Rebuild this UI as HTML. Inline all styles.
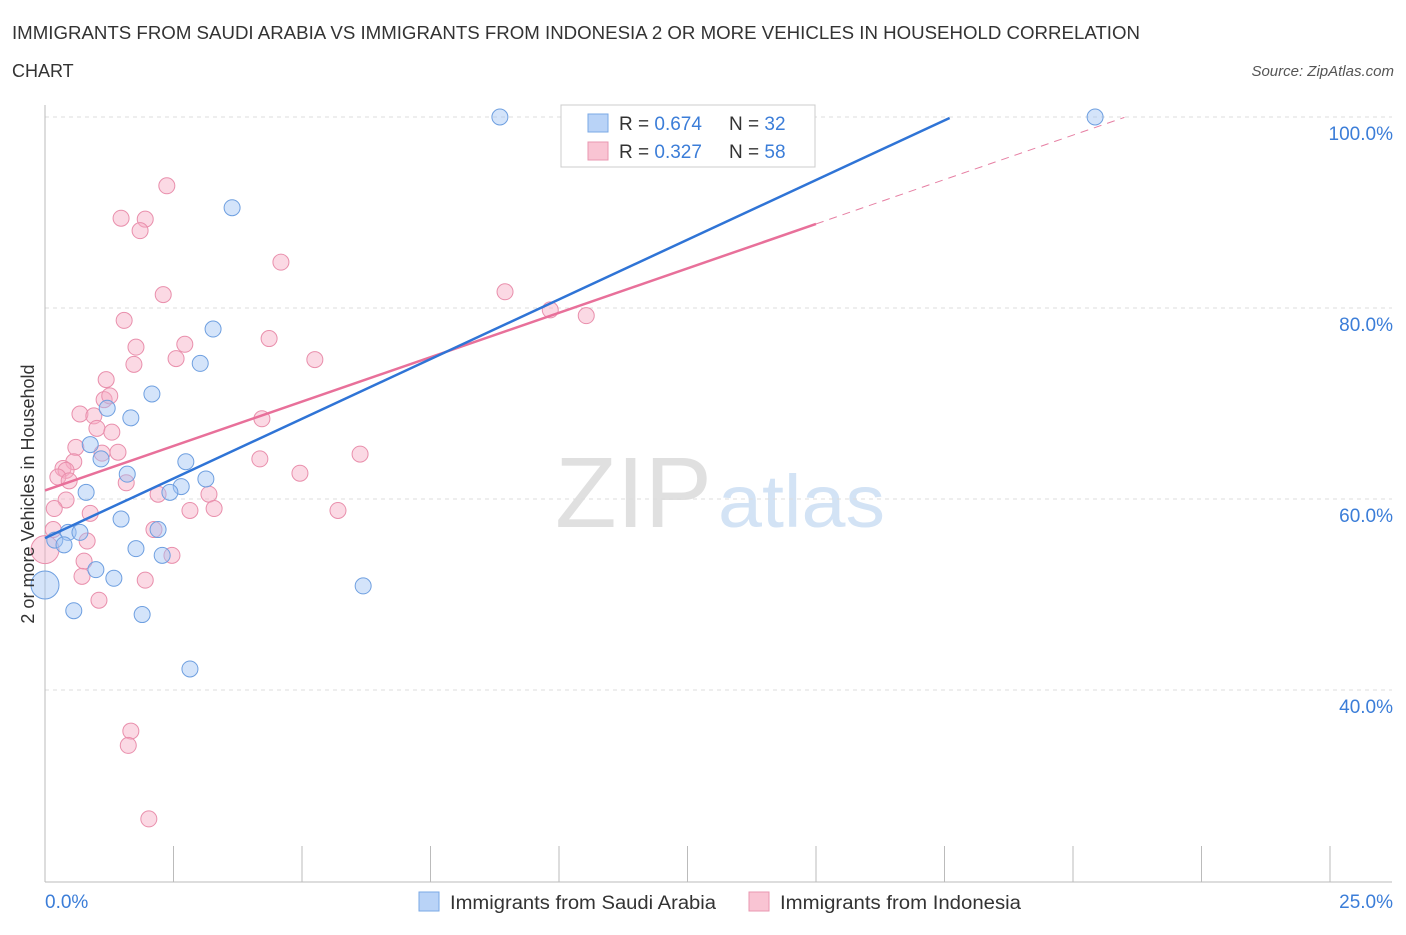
<!DOCTYPE html>
<html><head><meta charset="utf-8"><style>
body{margin:0;background:#fff;font-family:"Liberation Sans",sans-serif;}
svg text{font-family:"Liberation Sans",sans-serif;}
</style></head><body>
<svg id="chart" width="1406" height="930" xmlns="http://www.w3.org/2000/svg">
<text x="12" y="39" font-size="18" fill="#333" textLength="1128" lengthAdjust="spacingAndGlyphs">IMMIGRANTS FROM SAUDI ARABIA VS IMMIGRANTS FROM INDONESIA 2 OR MORE VEHICLES IN HOUSEHOLD CORRELATION</text>
<text x="12" y="77" font-size="18" fill="#333">CHART</text>
<text x="1394" y="76" font-size="15" fill="#555" font-style="italic" text-anchor="end">Source: ZipAtlas.com</text>
<g>
<text x="555" y="527" font-size="100" fill="#e0e0e0" font-family="Liberation Serif" textLength="157" lengthAdjust="spacingAndGlyphs">ZIP</text>
<text x="718" y="527" font-size="74" fill="#d3e3f5" textLength="167" lengthAdjust="spacingAndGlyphs">atlas</text>
</g>
<g id="grid"></g>
<g id="axes"></g>
<g id="marks"></g>
<text transform="translate(34,494) rotate(-90)" font-size="18" fill="#333" text-anchor="middle">2 or more Vehicles in Household</text>
<g>
<rect x="561" y="105" width="254" height="62" fill="#fff" stroke="#ccc"/>
<rect x="588" y="114" width="20" height="18" fill="#b9d3f7" stroke="#7aa8e6"/>
<rect x="588" y="142" width="20" height="18" fill="#f9c4d3" stroke="#e997b0"/>
<text x="619" y="130" font-size="19" fill="#333">R = <tspan fill="#3b7dd8">0.674</tspan></text>
<text x="729" y="130" font-size="19" fill="#333">N = <tspan fill="#3b7dd8">32</tspan></text>
<text x="619" y="158" font-size="19" fill="#333">R = <tspan fill="#3b7dd8">0.327</tspan></text>
<text x="729" y="158" font-size="19" fill="#333">N = <tspan fill="#3b7dd8">58</tspan></text>
</g>
<g>
<rect x="419" y="892" width="20" height="19" fill="#b9d3f7" stroke="#7aa8e6"/>
<text x="450" y="909" font-size="19" fill="#333" textLength="266" lengthAdjust="spacingAndGlyphs">Immigrants from Saudi Arabia</text>
<rect x="749" y="892" width="20" height="19" fill="#f9c4d3" stroke="#e997b0"/>
<text x="780" y="909" font-size="19" fill="#333" textLength="241" lengthAdjust="spacingAndGlyphs">Immigrants from Indonesia</text>
</g>
</svg>
<script>
const yTicks=[100,80,60,40];
const yTickLabels=["100.0%","80.0%","60.0%","40.0%"];
const xTickCount=10;
const blueX=[8.85,20.43,3.64,3.27,3.02,2.08,1.21,1.67,0.88,1.09,2.74,1.60,3.13,2.65,0.80,2.43,1.48,2.20,0.45,0.68,0.19,0.37,1.77,2.28,0.99,1.34,0,6.19,0.56,1.89,2.82];
const blueY=[100,100,90.5,77.8,74.2,71.0,69.5,68.5,65.7,64.2,63.9,62.6,62.1,61.3,60.7,60.7,57.9,56.8,56.5,56.5,55.7,55.2,54.8,54.1,52.6,51.7,51.0,50.9,48.3,47.9,42.2];
const blueBig=[0,0,0,0,0,0,0,0,0,0,0,0,0,0,0,0,0,0,0,0,0,0,0,0,0,0,1,0,0,0,0];
const pinkX=[2.37,1.48,1.95,1.85,4.59,2.30,8.95,1.54,9.83,10.53,4.36,2.72,1.77,5.25,2.55,1.73,1.19,1.15,1.26,0.68,0.95,4.22,1.01,1.30,0.60,1.42,1.11,6.13,0.56,4.18,0.35,0.41,0.25,4.96,0.47,1.58,2.20,3.19,0.41,0.18,2.82,3.29,5.70,0.88,0.16,2.12,0.82,2.47,0,0.76,0.72,1.95,1.05,1.67,1.62,2.02];
const pinkY=[92.8,89.4,89.3,88.1,84.8,81.4,81.7,78.7,79.8,79.2,76.8,76.2,75.9,74.6,74.7,74.1,72.5,70.4,70.8,68.9,68.7,68.4,67.4,67.0,65.4,64.9,64.8,64.7,63.9,64.2,63.2,63.0,62.3,62.7,61.9,61.7,60.5,60.5,59.9,59.0,58.8,59.0,58.8,58.5,56.8,56.8,55.6,54.1,54.7,53.5,51.9,51.5,49.4,35.7,34.2,26.5];
const blueLine=[55.9,2.50,17.6];
const pinkLine=[60.9,1.86,15.0,21.0];

const X0=45,X1=1330,xMax=25;
function sx(v){return X0+(X1-X0)*v/xMax;}
function sy(v){return 117+(100-v)*9.55;}
const NS="http://www.w3.org/2000/svg";
function mk(parent,tag,attrs){const e=document.createElementNS(NS,tag);for(const k in attrs)e.setAttribute(k,attrs[k]);document.getElementById(parent).appendChild(e);return e;}

yTicks.forEach((t,i)=>{
  const l=mk('grid','line',{x1:45,x2:1392,y1:sy(t),y2:sy(t),stroke:'#ddd','stroke-dasharray':'4,4'});
  
  
  const tx=mk('grid','text',{x:1393,y:sy(t)+23,'font-size':19,fill:'#3b7dd8','text-anchor':'end'});
  tx.textContent=yTickLabels[i];
  
  
});
let a=mk('axes','line',{x1:45,x2:45,y1:105,y2:882,stroke:'#bbb'});


a=mk('axes','line',{x1:45,x2:1392,y1:882,y2:882,stroke:'#bbb'});


for(let i=0;i<=xTickCount;i++){
  const x=sx(i*xMax/xTickCount);
  const t=mk('axes','line',{x1:x,x2:x,y1:846,y2:882,stroke:'#bbb'});
  
  
}
let xl=mk('axes','text',{x:45,y:908,'font-size':19,fill:'#3b7dd8'});xl.textContent='0.0%';


xl=mk('axes','text',{x:1393,y:908,'font-size':19,fill:'#3b7dd8','text-anchor':'end'});xl.textContent='25.0%';



pinkX.forEach((v,i)=>{
  const r=(pinkX[i]===0)?14:8;
  const c=mk('marks','circle',{cx:sx(v),cy:sy(pinkY[i]),r:r,fill:'rgba(247,170,195,0.45)',stroke:'#e98fac','stroke-width':1});
  
  
});
blueX.forEach((v,i)=>{
  const c=mk('marks','circle',{cx:sx(v),cy:sy(blueY[i]),r:blueBig[i]?14:8,fill:'rgba(160,195,245,0.45)',stroke:'#6e9fe0','stroke-width':1});
  
  
});
let ln=mk('marks','line',{x1:sx(pinkLine[2]),y1:sy(pinkLine[0]+pinkLine[1]*pinkLine[2]),x2:sx(pinkLine[3]),y2:sy(pinkLine[0]+pinkLine[1]*pinkLine[3]),stroke:'#e67fa3','stroke-width':1,'stroke-dasharray':'8,6'});


ln=mk('marks','line',{x1:sx(0),y1:sy(pinkLine[0]),x2:sx(pinkLine[2]),y2:sy(pinkLine[0]+pinkLine[1]*pinkLine[2]),stroke:'#e8709a','stroke-width':2.5});


ln=mk('marks','line',{x1:sx(0),y1:sy(blueLine[0]),x2:sx(blueLine[2]),y2:sy(blueLine[0]+blueLine[1]*blueLine[2]),stroke:'#2f74d6','stroke-width':2.5});


</script>
</body></html>
